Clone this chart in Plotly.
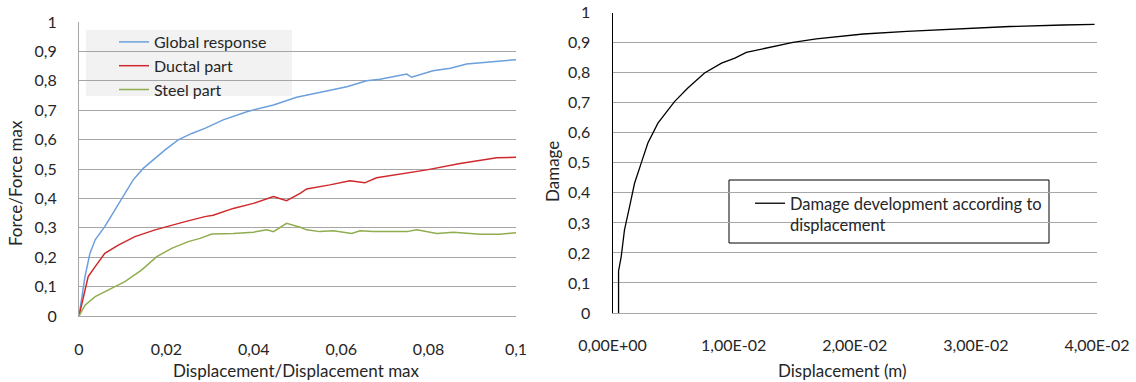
import plotly.graph_objects as go

W, H = 1136, 382

# ---------------- data ----------------
# Left chart: normalised force vs normalised displacement
global_x = [0, 0.00137, 0.0025, 0.0037, 0.0059, 0.0082, 0.0101, 0.0124, 0.0147, 0.0174, 0.0197,
            0.0227, 0.0258, 0.0288, 0.033, 0.0384, 0.0445, 0.0498, 0.0559, 0.0613, 0.0658,
            0.0689, 0.075, 0.0761, 0.081, 0.085, 0.0887, 0.093, 0.0993, 0.1]
global_y = [0, 0.134, 0.213, 0.259, 0.304, 0.361, 0.406, 0.463, 0.502, 0.536, 0.565,
            0.599, 0.621, 0.638, 0.667, 0.695, 0.718, 0.744, 0.763, 0.780, 0.800,
            0.805, 0.823, 0.812, 0.834, 0.843, 0.857, 0.862, 0.871, 0.872]

ductal_x = [0, 0.001, 0.0021, 0.0037, 0.0059, 0.009, 0.0128, 0.0174, 0.022, 0.0243, 0.0288,
            0.0307, 0.0353, 0.0399, 0.0445, 0.0475, 0.0506, 0.0521, 0.0574, 0.062, 0.0654,
            0.0681, 0.0796, 0.0872, 0.0956, 0.1]
ductal_y = [0, 0.066, 0.134, 0.168, 0.213, 0.241, 0.27, 0.293, 0.31, 0.321, 0.338,
            0.343, 0.366, 0.383, 0.406, 0.392, 0.417, 0.432, 0.446, 0.46, 0.453,
            0.47, 0.497, 0.519, 0.538, 0.540]

steel_x = [0, 0.00137, 0.0037, 0.0075, 0.0105, 0.0143, 0.0178, 0.0212, 0.025, 0.0277, 0.0304,
           0.0353, 0.0399, 0.043, 0.0445, 0.0475, 0.0506, 0.0521, 0.0551, 0.0582, 0.0624,
           0.0643, 0.0673, 0.075, 0.0773, 0.0819, 0.0857, 0.0918, 0.0963, 0.1]
steel_y = [0, 0.037, 0.066, 0.094, 0.117, 0.156, 0.202, 0.23, 0.253, 0.264, 0.279,
           0.281, 0.285, 0.293, 0.287, 0.315, 0.302, 0.293, 0.287, 0.29, 0.281,
           0.29, 0.287, 0.287, 0.293, 0.281, 0.285, 0.278, 0.278, 0.283]

# Right chart: damage vs displacement (m)
damage_x = [0.0005, 0.0005, 0.00072, 0.00099, 0.00141, 0.00182, 0.00237, 0.00292, 0.00375,
            0.00512, 0.00622, 0.0076, 0.009, 0.0101, 0.01105, 0.01325, 0.0149, 0.01683,
            0.0188, 0.0207, 0.0243, 0.029, 0.0328, 0.0372, 0.0398]
damage_y = [0, 0.14, 0.188, 0.277, 0.354, 0.432, 0.499, 0.566, 0.632,
            0.704, 0.749, 0.799, 0.832, 0.849, 0.868, 0.888, 0.901, 0.913,
            0.92, 0.929, 0.938, 0.947, 0.954, 0.959, 0.961]

right_x_tickvals = [0, 0.01, 0.02, 0.03, 0.04]
right_x_ticktext = ["0,00E+00", "1,00E-02", "2,00E-02", "3,00E-02", "4,00E-02"]

# ---------------- style ----------------
FONT = "Lato, 'Open Sans', sans-serif"
TXT = "#262626"
GRID = "#a6a6a6"

def px_x(p):
    return p / W

def px_y(p):
    return 1 - p / H

fig = go.Figure()
fig.add_trace(go.Scatter(x=global_x, y=global_y, mode="lines", name="Global response",
                         line=dict(color="#6c9fdc", width=1.5), xaxis="x", yaxis="y", legend="legend"))
fig.add_trace(go.Scatter(x=ductal_x, y=ductal_y, mode="lines", name="Ductal part",
                         line=dict(color="#d0282b", width=1.5), xaxis="x", yaxis="y", legend="legend"))
fig.add_trace(go.Scatter(x=steel_x, y=steel_y, mode="lines", name="Steel part",
                         line=dict(color="#8fad4f", width=1.5), xaxis="x", yaxis="y", legend="legend"))
fig.add_trace(go.Scatter(x=damage_x, y=damage_y, mode="lines",
                         name="Damage development according to<br>displacement",
                         line=dict(color="#000000", width=1.3), xaxis="x2", yaxis="y2", legend="legend2"))

tickfont = dict(family=FONT, size=16, color=TXT)
titlefont = dict(family=FONT, size=17, color=TXT)
legfont1 = dict(family=FONT, size=16, color=TXT)
legfont2 = dict(family=FONT, size=16.5, color=TXT)

fig.update_layout(
    width=W, height=H,
    margin=dict(l=0, r=0, t=0, b=0, autoexpand=False),
    paper_bgcolor="white", plot_bgcolor="white",
    separators=",.",
    font=dict(family=FONT, size=16, color=TXT),
    xaxis=dict(domain=[px_x(79), px_x(516)], range=[0, 0.1], dtick=0.02, tick0=0,
               showgrid=False, zeroline=False, showline=True, linecolor=GRID, linewidth=1,
               ticks="", tickfont=tickfont, ticklabelstandoff=19, anchor="y", automargin=False),
    yaxis=dict(domain=[px_y(316), px_y(22)], range=[0, 1], dtick=0.1, tick0=0,
               showgrid=True, gridcolor=GRID, gridwidth=1, zeroline=False,
               showline=True, linecolor=GRID, linewidth=1,
               ticks="", tickfont=tickfont, ticklabelstandoff=18, anchor="x", automargin=False),
    xaxis2=dict(domain=[px_x(612.5), px_x(1097)], range=[0, 0.04],
                tickmode="array", tickvals=right_x_tickvals, ticktext=right_x_ticktext,
                showgrid=False, zeroline=False, showline=True, linecolor=GRID, linewidth=1,
                ticks="", tickfont=tickfont, ticklabelstandoff=18, anchor="y2", automargin=False),
    yaxis2=dict(domain=[px_y(313), px_y(12.7)], range=[0, 1], dtick=0.1, tick0=0,
                showgrid=True, gridcolor=GRID, gridwidth=1, zeroline=False,
                showline=True, linecolor="#000000", linewidth=1,
                ticks="", tickfont=tickfont, ticklabelstandoff=18, anchor="x2", automargin=False),
    legend=dict(x=px_x(114), y=px_y(25), xanchor="left", yanchor="top",
                bgcolor="rgba(0,0,0,0)", borderwidth=0, font=legfont1, itemwidth=30),
    legend2=dict(x=px_x(750), y=px_y(186), xanchor="left", yanchor="top",
                 bgcolor="rgba(0,0,0,0)", borderwidth=0,
                 font=legfont2, valign="top", itemwidth=30),
    showlegend=True,
    shapes=[
        dict(type="rect", xref="paper", yref="paper", x0=px_x(86), x1=px_x(292),
             y0=px_y(96), y1=px_y(30), fillcolor="#f2f2f2", line=dict(width=0), layer="between"),
        dict(type="rect", xref="paper", yref="paper", x0=px_x(729), x1=px_x(1049),
             y0=px_y(243), y1=px_y(180), fillcolor="white",
             line=dict(width=1, color="#000000"), layer="between"),
    ],
    annotations=[
        dict(text="Force/Force max", x=px_x(15), y=px_y(183), xref="paper", yref="paper",
             xanchor="center", yanchor="middle",
             textangle=-90, showarrow=False, font=titlefont),
        dict(text="Displacement/Displacement max", x=px_x(296), y=px_y(370), xref="paper", yref="paper",
             xanchor="center", yanchor="middle", showarrow=False, font=titlefont),
        dict(text="Damage", x=px_x(553), y=px_y(172), xref="paper", yref="paper",
             xanchor="center", yanchor="middle",
             textangle=-90, showarrow=False, font=titlefont),
        dict(text="Displacement (m)", x=px_x(842), y=px_y(370), xref="paper", yref="paper",
             xanchor="center", yanchor="middle", showarrow=False, font=titlefont),
    ],
)

fig.write_html("out.html")
